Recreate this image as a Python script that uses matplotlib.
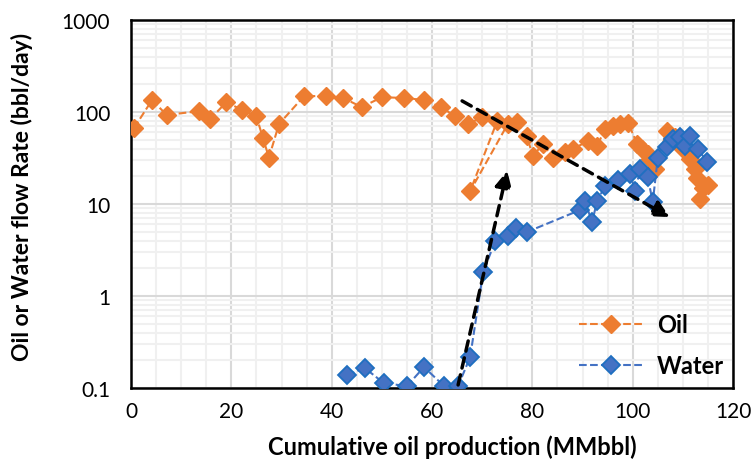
import matplotlib
matplotlib.use("Agg")
import matplotlib.pyplot as plt
from matplotlib.ticker import MultipleLocator, LogLocator, NullFormatter

# oil rate (bbl/day) vs cumulative oil (MMbbl)
oil_x = [0.6, 4.2, 7.1, 13.5, 15.8, 19.0, 22.2, 25.0, 26.3, 27.5, 29.5, 34.5, 38.8, 42.2,
         46.0, 50.0, 54.5, 58.5, 61.8, 64.6, 67.2, 70.0, 73.0, 67.6, 75.1, 76.9, 78.9,
         80.1, 82.1, 84.1, 86.5, 88.1, 91.1, 92.9, 94.5, 96.1, 97.5, 99.1, 100.9, 101.9,
         103.0, 103.4, 104.4, 106.8, 108.4, 110.0, 111.4, 112.4, 112.8, 113.4, 114.0, 115.0]
oil_y = [67, 135, 93, 102, 84, 128, 105, 90, 52, 32, 74, 149, 149, 143,
         113, 145, 142, 135, 113, 90, 74, 88, 80, 13.8, 74, 78, 55,
         33, 45, 32, 37, 40, 48, 43, 65, 70, 74, 76, 45, 40,
         35, 31, 24, 62, 53, 40, 31, 24, 19, 11.3, 15, 16]

# water rate (bbl/day)
water_x = [43.1, 46.6, 50.4, 55.0, 58.4, 62.4, 65.2, 67.6, 70.2, 72.6, 75.1, 76.7, 78.9,
           89.5, 90.5, 91.9, 92.9, 94.5, 97.1, 99.5, 100.5, 101.5, 103.0, 104.0, 105.0,
           106.8, 108.0, 109.4, 110.4, 111.4, 113.0, 114.8]
water_y = [0.138, 0.165, 0.113, 0.105, 0.169, 0.105, 0.105, 0.217, 1.82, 3.96, 4.5, 5.5, 4.96,
           8.6, 10.8, 6.3, 10.8, 15.7, 18.2, 21, 13.8, 24, 19.6, 10.5, 31.6,
           41.6, 51, 53, 43, 55, 40, 28.6]

# trend arrows (start, end)
arrow_up = [(65.2, 0.108), (75.0, 23.0)]
arrow_down = [(66.0, 132), (107.4, 7.2)]

plt.rcParams['font.family'] = ['Lato', 'DejaVu Sans']

fig = plt.figure(figsize=(7.55, 4.6), dpi=100)
ax = fig.add_axes([0.1735, 0.1543, 0.7974, 0.80])

ax.plot(oil_x, oil_y, linestyle='--', color='#ED7D31', lw=1.5, marker='D', markersize=9.5,
        markerfacecolor='#ED7D31', markeredgecolor='#ED7D31', label='Oil', zorder=3)
ax.plot(water_x, water_y, linestyle='--', color='#4472C4', lw=1.5, marker='D', markersize=9.5,
        markerfacecolor='#4472C4', markeredgecolor='#1F6FC0', markeredgewidth=1.3,
        label='Water', zorder=4)

for (x0, y0), (x1, y1) in [arrow_up, arrow_down]:
    ax.annotate('', xy=(x1, y1), xytext=(x0, y0),
                arrowprops=dict(arrowstyle='-|>', color='black', lw=2.5, linestyle=(0, (3, 2)),
                                mutation_scale=25, shrinkA=0, shrinkB=0), zorder=5)

ax.set_yscale('log')
ax.set_xlim(0, 120)
ax.set_ylim(0.1, 1000)
ax.xaxis.set_major_locator(MultipleLocator(20))
ax.xaxis.set_minor_locator(MultipleLocator(5))
ax.set_yticks([0.1, 1, 10, 100, 1000])
ax.set_yticklabels(['0.1', '1', '10', '100', '1000'])
ax.yaxis.set_minor_locator(LogLocator(base=10, subs=range(2, 10)))
ax.yaxis.set_minor_formatter(NullFormatter())

ax.grid(True, which='major', color='#D9D9D9', lw=1.5)
ax.grid(True, which='minor', color='#F0F0F0', lw=1.5)
ax.set_axisbelow(True)
ax.tick_params(which='both', length=0, labelsize=15)
ax.tick_params(axis='x', pad=9)
ax.tick_params(axis='y', pad=15)

for s in ax.spines.values():
    s.set_color('black')
    s.set_linewidth(1.8)

ax.set_xlabel('Cumulative oil production (MMbbl)', fontsize=17, fontweight='bold')
ax.set_ylabel('Oil or Water flow Rate (bbl/day)', fontsize=16.5, fontweight='bold')
ax.xaxis.set_label_coords(0.533, -0.126)
ax.yaxis.set_label_coords(-0.163, 0.522)

leg = ax.legend(loc='lower right', frameon=False, prop={'weight': 'bold', 'size': 17},
                handlelength=2.7, handletextpad=0.6, labelspacing=0.75,
                bbox_to_anchor=(1.02, -0.028))

fig.savefig('out.png', dpi=100)
